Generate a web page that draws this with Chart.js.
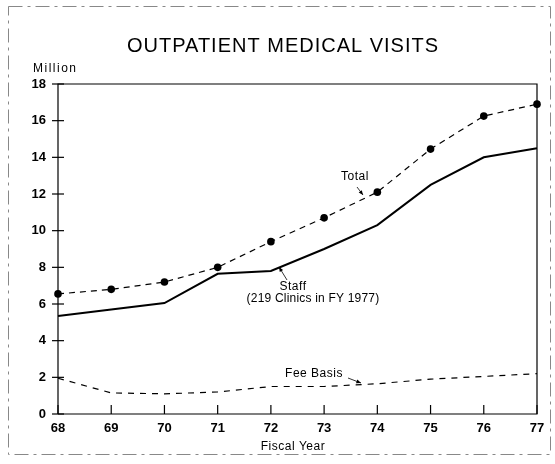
<!DOCTYPE html>
<html>
<head>
<meta charset="utf-8">
<script src="https://cdn.jsdelivr.net/npm/chart.js@4/dist/chart.umd.min.js"></script>
<style>
  html, body { margin: 0; padding: 0; background: #fff; }
  canvas { display: block; }
</style>
</head>
<body>
<canvas id="visits" width="555" height="464"></canvas>
<script>
"use strict";

// Fiscal years (19xx)
const years = ["68", "69", "70", "71", "72", "73", "74", "75", "76", "77"];

// Visits, millions
const totalVisits = [6.55, 6.8, 7.2, 8.0, 9.4, 10.7, 12.1, 14.45, 16.25, 16.9];
const staffVisits = [5.35, 5.7, 6.05, 7.65, 7.8, 9.0, 10.3, 12.5, 14.0, 14.5];
const feeBasisVisits = [1.95, 1.15, 1.1, 1.2, 1.5, 1.5, 1.65, 1.9, 2.05, 2.2];

const yTicks = [0, 2, 4, 6, 8, 10, 12, 14, 16, 18];

const FONT = '"Liberation Sans", Arial, sans-serif';

/**
 * Draws frame, crossing ticks, title and the line labels.
 */
const decorations = {
  id: "decorations",
  afterDraw(chart) {
    const ctx = chart.ctx;
    const area = chart.chartArea;
    const x = chart.scales.x;
    const y = chart.scales.y;
    ctx.save();

    // outer dashed frame
    ctx.strokeStyle = "#888";
    ctx.lineWidth = 1;
    ctx.setLineDash([14, 5, 3, 5]);
    ctx.strokeRect(8.5, 6.5, 542, 448);
    ctx.setLineDash([]);

    // plot box
    ctx.strokeStyle = "#000";
    ctx.lineWidth = 1.2;
    ctx.beginPath();
    ctx.moveTo(area.left, area.bottom);
    ctx.lineTo(area.left, area.top);
    ctx.lineTo(area.right, area.top);
    ctx.lineTo(area.right, area.bottom);
    ctx.lineTo(area.left, area.bottom);
    ctx.stroke();

    // y ticks crossing the axis
    yTicks.forEach(v => {
      const py = y.getPixelForValue(v);
      ctx.beginPath();
      ctx.moveTo(area.left - 6, py);
      ctx.lineTo(area.left + 6, py);
      ctx.stroke();
    });

    // x ticks pointing up
    years.forEach((_, i) => {
      const px = x.getPixelForValue(i);
      ctx.beginPath();
      ctx.moveTo(px, area.bottom);
      ctx.lineTo(px, area.bottom - 9);
      ctx.stroke();
    });

    // texts
    ctx.fillStyle = "#000";
    ctx.textBaseline = "alphabetic";
    ctx.textAlign = "center";
    ctx.letterSpacing = "1px";
    ctx.font = "20px " + FONT;
    ctx.fillText("OUTPATIENT MEDICAL VISITS", 283, 52);

    ctx.textAlign = "left";
    ctx.letterSpacing = "1.5px";
    ctx.font = "12px " + FONT;
    ctx.fillText("Million", 33, 72);

    ctx.textAlign = "center";
    ctx.letterSpacing = "0.5px";
    ctx.font = "12px " + FONT;
    ctx.fillText("Fiscal Year", 293, 450);
    ctx.fillText("Total", 355, 180);
    ctx.fillText("Staff", 293, 290);
    ctx.fillText("Fee Basis", 314, 377);
    ctx.letterSpacing = "0.2px";
    ctx.fillText("(219 Clinics in FY 1977)", 313, 302);
    ctx.letterSpacing = "0px";

    // small arrows
    const arrow = (x1, y1, x2, y2) => {
      ctx.lineWidth = 0.8;
      ctx.beginPath();
      ctx.moveTo(x1, y1);
      ctx.lineTo(x2, y2);
      ctx.stroke();
      const a = Math.atan2(y2 - y1, x2 - x1);
      ctx.beginPath();
      ctx.moveTo(x2, y2);
      ctx.lineTo(x2 - 5 * Math.cos(a - 0.4), y2 - 5 * Math.sin(a - 0.4));
      ctx.lineTo(x2 - 5 * Math.cos(a + 0.4), y2 - 5 * Math.sin(a + 0.4));
      ctx.closePath();
      ctx.fill();
    };
    arrow(357, 187, 363, 195);
    arrow(287, 280, 279, 267);
    arrow(348, 378, 361, 383);

    ctx.restore();
  }
};

new Chart(document.getElementById("visits"), {
  type: "line",
  data: {
    labels: years,
    datasets: [
      {
        label: "Total",
        data: totalVisits,
        borderColor: "#000",
        borderWidth: 1.2,
        borderDash: [6, 5],
        pointRadius: 3.8,
        pointBackgroundColor: "#000",
        pointBorderWidth: 0,
        tension: 0
      },
      {
        label: "Staff",
        data: staffVisits,
        borderColor: "#000",
        borderWidth: 2,
        pointRadius: 0,
        tension: 0
      },
      {
        label: "Fee Basis",
        data: feeBasisVisits,
        borderColor: "#000",
        borderWidth: 1.2,
        borderDash: [6, 6],
        pointRadius: 0,
        tension: 0
      }
    ]
  },
  options: {
    responsive: false,
    animation: false,
    layout: { padding: { top: 84, right: 18, left: 0, bottom: 0 } },
    plugins: {
      legend: { display: false },
      tooltip: { enabled: false }
    },
    scales: {
      x: {
        offset: false,
        grid: { display: false, drawTicks: false },
        border: { display: false },
        ticks: {
          color: "#000",
          padding: 7,
          maxRotation: 0,
          font: { family: FONT, size: 13, weight: "bold" }
        },
        afterFit(scale) { scale.height = 50; }
      },
      y: {
        min: 0,
        max: 18,
        grid: { display: false, drawTicks: false },
        border: { display: false },
        ticks: {
          stepSize: 2,
          color: "#000",
          padding: 12,
          font: { family: FONT, size: 13, weight: "bold" }
        },
        afterFit(scale) { scale.width = 58; }
      }
    }
  },
  plugins: [decorations]
});
</script>
</body>
</html>
